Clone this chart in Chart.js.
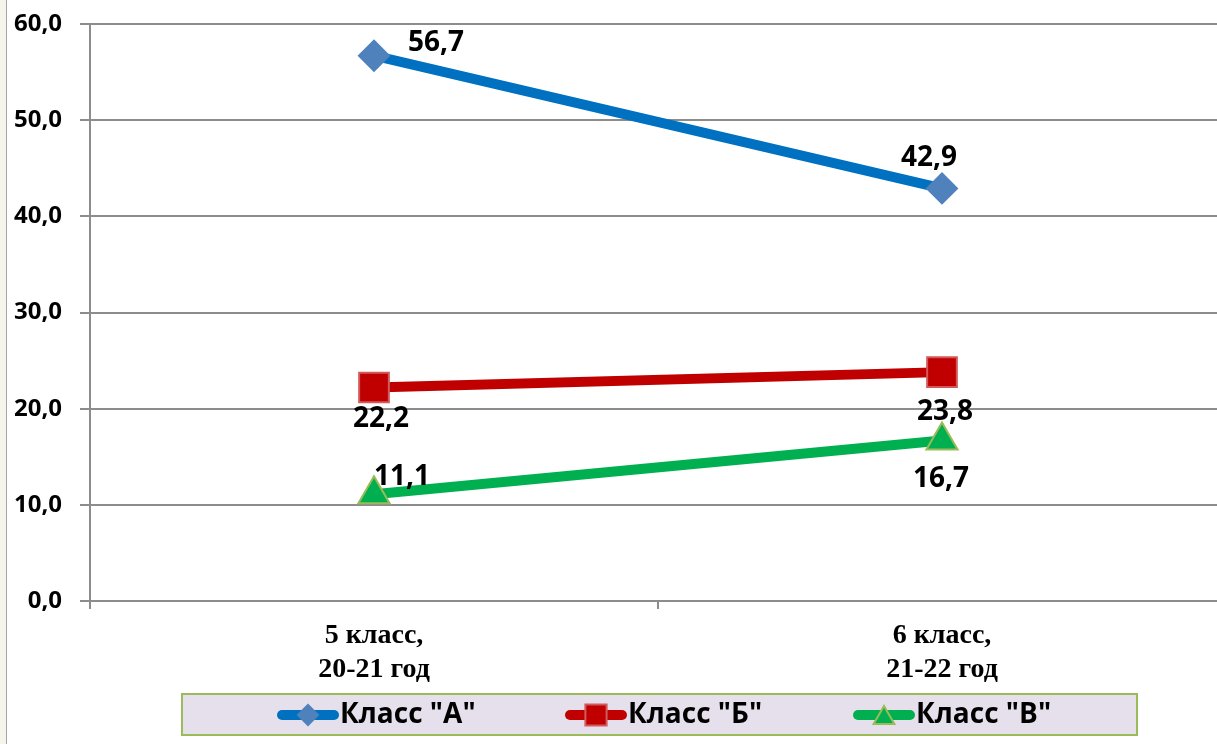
<!DOCTYPE html>
<html lang="ru">
<head>
<meta charset="utf-8">
<title>Класс А, Б, В</title>
<script src="https://cdn.jsdelivr.net/npm/chart.js@4.4.1/dist/chart.umd.min.js"></script>
<style>
    html, body { margin: 0; padding: 0; background: #ffffff; width: 1217px; height: 744px; overflow: hidden; }
    .edge { position: absolute; left: 0; top: 0; width: 6px; height: 744px; background: #f7f4ec; border-right: 1px solid #a6a6a6; z-index: 2; }
    #progress { position: absolute; left: 0; top: 0; }
</style>
</head>
<body>
<div class="edge"></div>
<canvas id="progress" width="1226" height="744"></canvas>
<script>
// Data
const categories = [["5 класс,", "20-21 год"], ["6 класс,", "21-22 год"]];
const seriesNames = ['Класс "А"', 'Класс "Б"', 'Класс "В"'];
const classA = [56.7, 42.9];
const classB = [22.2, 23.8];
const classC = [11.1, 16.7];
const yTicks = [0, 10, 20, 30, 40, 50, 60];

// Style
const lineColors = ["#0070c0", "#c00000", "#00b050"];
const markerFill = ["#4f81bd", "#c00000", "#00b050"];
const markerBorder = ["#4f81bd", "#d25a5a", "#9bbb59"];
const markerStyle = ["rectRot", "rect", "triangle"];
const markerRadius = [15, 21, 18];
const legendRadius = [10, 15, 12];
// label offset from its point, px
const labelOffsets = [
    [[62, -13], [-13, -30]],
    [[7, 32], [3, 40]],
    [[28, -17], [-1, 39]]
];
const gridColor = "#8c8c8c";

const formatValue = (v) => v.toFixed(1).replace(".", ",");

// Plugins
const dataLabels = {
    id: "dataLabels",
    afterDatasetsDraw(chart) {
        const ctx = chart.ctx;
        ctx.save();
        ctx.font = "bold 28px 'Open Sans'";
        ctx.fillStyle = "#000000";
        ctx.textAlign = "center";
        ctx.textBaseline = "middle";
        chart.data.datasets.forEach((ds, i) => {
            chart.getDatasetMeta(i).data.forEach((pt, j) => {
                const off = labelOffsets[i][j];
                ctx.fillText(formatValue(ds.data[j]), pt.x + off[0], pt.y + off[1]);
            });
        });
        ctx.restore();
    }
};

const boxLegend = {
    id: "boxLegend",
    afterDraw(chart) {
        const ctx = chart.ctx;
        const left = 182, top = 694, right = 1137, bottom = 735;
        ctx.save();
        ctx.fillStyle = "#e5e0ec";
        ctx.fillRect(left, top, right - left, bottom - top);
        ctx.strokeStyle = "#9bbb59";
        ctx.lineWidth = 2;
        ctx.strokeRect(left, top, right - left, bottom - top);

        const cy = 715;
        seriesNames.forEach((name, i) => {
            const x0 = 277 + i * 288;
            ctx.strokeStyle = lineColors[i];
            ctx.lineWidth = 10;
            ctx.lineCap = "round";
            ctx.beginPath();
            ctx.moveTo(x0 + 5, cy);
            ctx.lineTo(x0 + 57, cy);
            ctx.stroke();

            ctx.fillStyle = markerFill[i];
            ctx.strokeStyle = markerBorder[i];
            ctx.lineWidth = 2;
            Chart.helpers.drawPoint(ctx, {
                pointStyle: markerStyle[i],
                radius: legendRadius[i],
                rotation: 0,
                borderWidth: 2
            }, x0 + 31, cy + (markerStyle[i] === "triangle" ? 3 : 0));

            ctx.fillStyle = "#000000";
            ctx.font = "bold 28px 'Open Sans'";
            ctx.textAlign = "left";
            ctx.textBaseline = "middle";
            ctx.fillText(name, x0 + 63, cy);
        });
        ctx.restore();
    }
};

const noPadding = (scale) => {
    scale.paddingTop = 0;
    scale.paddingBottom = 0;
    scale.paddingLeft = 0;
    scale.paddingRight = 0;
};

// Chart
const values = [classA, classB, classC];
new Chart(document.querySelector("#progress"), {
    type: "line",
    data: {
        labels: categories,
        datasets: seriesNames.map((name, i) => ({
            label: name,
            data: values[i],
            borderColor: lineColors[i],
            borderWidth: 10,
            borderCapStyle: "round",
            pointStyle: markerStyle[i],
            pointRadius: markerRadius[i],
            pointBackgroundColor: markerFill[i],
            pointBorderColor: markerBorder[i],
            pointBorderWidth: 2,
            tension: 0
        }))
    },
    options: {
        responsive: false,
        animation: false,
        devicePixelRatio: 1,
        layout: {autoPadding: false, padding: {top: 24, left: 0, right: 0, bottom: 0}},
        plugins: {
            legend: {display: false},
            tooltip: {enabled: false}
        },
        scales: {
            x: {
                offset: true,
                grid: {
                    offset: true,
                    drawOnChartArea: false,
                    drawTicks: true,
                    tickLength: 8,
                    color: gridColor,
                    lineWidth: 2
                },
                border: {color: gridColor, width: 2},
                ticks: {
                    color: "#000000",
                    padding: 10,
                    maxRotation: 0,
                    font: {family: "'Liberation Serif'", size: 28, weight: "bold", lineHeight: 1.2}
                },
                afterFit: (scale) => { scale.height = 143; noPadding(scale); }
            },
            y: {
                min: 0,
                max: 60,
                afterBuildTicks: (scale) => { scale.ticks = yTicks.map(v => ({value: v})); },
                grid: {
                    color: gridColor,
                    lineWidth: 2,
                    drawTicks: true,
                    tickLength: 10
                },
                border: {color: gridColor, width: 2},
                ticks: {
                    color: "#000000",
                    padding: 18,
                    callback: (v) => formatValue(v),
                    font: {family: "'Open Sans'", size: 24, weight: "bold"}
                },
                afterFit: (scale) => { scale.width = 90; noPadding(scale); }
            }
        }
    },
    plugins: [dataLabels, boxLegend]
});
</script>
</body>
</html>
